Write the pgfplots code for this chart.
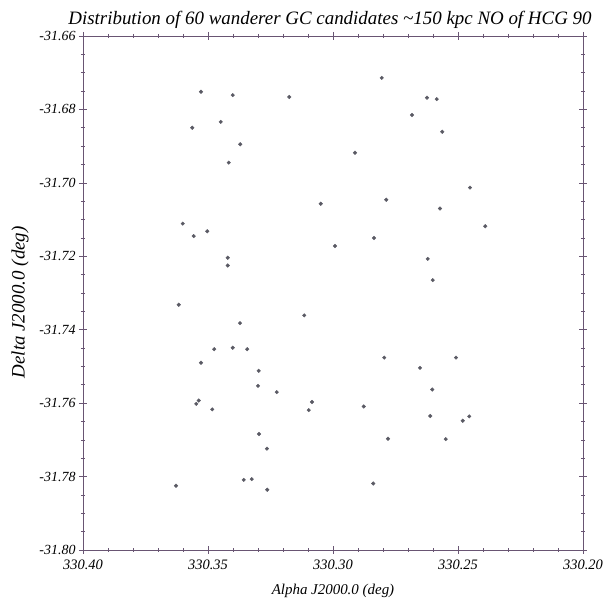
\documentclass[border=0pt]{standalone}
\usepackage{fontspec}
\setmainfont{Liberation Serif}
\usepackage{pgfplots}
\pgfplotsset{compat=1.18}
\definecolor{axcol}{RGB}{105,85,115}
\definecolor{ptcol}{RGB}{90,90,100}
\begin{document}
\begin{tikzpicture}
\begin{axis}[
  scale only axis,
  width=500bp, height=514bp,
  x dir=reverse,
  xmin=330.20, xmax=330.40,
  ymin=-31.80, ymax=-31.66,
  xtick={330.20,330.25,330.30,330.35,330.40},
  ytick={-31.80,-31.78,-31.76,-31.74,-31.72,-31.70,-31.68,-31.66},
  minor x tick num=4,
  minor y tick num=3,
  tick align=center,
  major tick length=8bp,
  minor tick length=4bp,
  axis line style={axcol, line width=0.8pt},
  every tick/.style={axcol, line width=0.6pt},
  /pgf/number format/assume math mode=true,
  /pgf/number format/fixed,
  /pgf/number format/fixed zerofill,
  /pgf/number format/precision=2,
  /pgf/number format/1000 sep={},
  scaled ticks=false,
  xticklabel style={font=\fontsize{14.5}{16}\itshape\selectfont, yshift=-2bp},
  yticklabel style={font=\fontsize{14}{16}\itshape\selectfont},
  title={Distribution of 60 wanderer GC candidates \textasciitilde150 kpc NO of HCG 90},
  title style={font=\fontsize{19}{21}\itshape\selectfont, at={(0.494,1)}, anchor=base, yshift=6bp, inner sep=0pt},
  xlabel={Alpha J2000.0 (deg)},
  ylabel={Delta J2000.0 (deg)},
  xlabel style={font=\fontsize{15}{17}\itshape\selectfont, at={(0.5,0)}, anchor=base, yshift=-44bp, inner sep=0pt},
  ylabel style={font=\fontsize{19}{21}\itshape\selectfont, at={(-0.126,0.482)}, anchor=center, inner sep=0pt},
]
\addplot[only marks, mark=*, mark size=1.8bp, ptcol, mark options={fill=ptcol, draw=ptcol}] coordinates {
(330.3528,-31.6752)
(330.3401,-31.6761)
(330.3175,-31.6766)
(330.3449,-31.6834)
(330.3563,-31.6850)
(330.3371,-31.6895)
(330.3417,-31.6945)
(330.3049,-31.7057)
(330.3601,-31.7111)
(330.3503,-31.7132)
(330.3557,-31.7145)
(330.2992,-31.7172)
(330.3421,-31.7204)
(330.2805,-31.6714)
(330.2624,-31.6768)
(330.2585,-31.6772)
(330.2684,-31.6815)
(330.2563,-31.6861)
(330.2912,-31.6918)
(330.2452,-31.7013)
(330.2787,-31.7046)
(330.2572,-31.7070)
(330.2391,-31.7118)
(330.2836,-31.7150)
(330.2621,-31.7207)
(330.3421,-31.7225)
(330.3617,-31.7332)
(330.3115,-31.7361)
(330.3372,-31.7382)
(330.3475,-31.7453)
(330.3401,-31.7449)
(330.3343,-31.7453)
(330.3528,-31.7490)
(330.3297,-31.7512)
(330.3300,-31.7553)
(330.3225,-31.7570)
(330.3537,-31.7593)
(330.3547,-31.7602)
(330.3084,-31.7597)
(330.3483,-31.7617)
(330.3097,-31.7619)
(330.3296,-31.7684)
(330.3264,-31.7724)
(330.3357,-31.7809)
(330.3325,-31.7807)
(330.3628,-31.7825)
(330.3263,-31.7836)
(330.2601,-31.7265)
(330.2795,-31.7476)
(330.2508,-31.7476)
(330.2652,-31.7504)
(330.2603,-31.7563)
(330.2877,-31.7609)
(330.2611,-31.7635)
(330.2455,-31.7636)
(330.2481,-31.7648)
(330.2780,-31.7697)
(330.2549,-31.7698)
(330.2839,-31.7819)
};
\end{axis}
\pgfresetboundingbox
\path[use as bounding box] ([shift={(-83bp,-50bp)}]current axis.south west) rectangle ([shift={(29bp,36bp)}]current axis.north east);
\end{tikzpicture}
\end{document}
